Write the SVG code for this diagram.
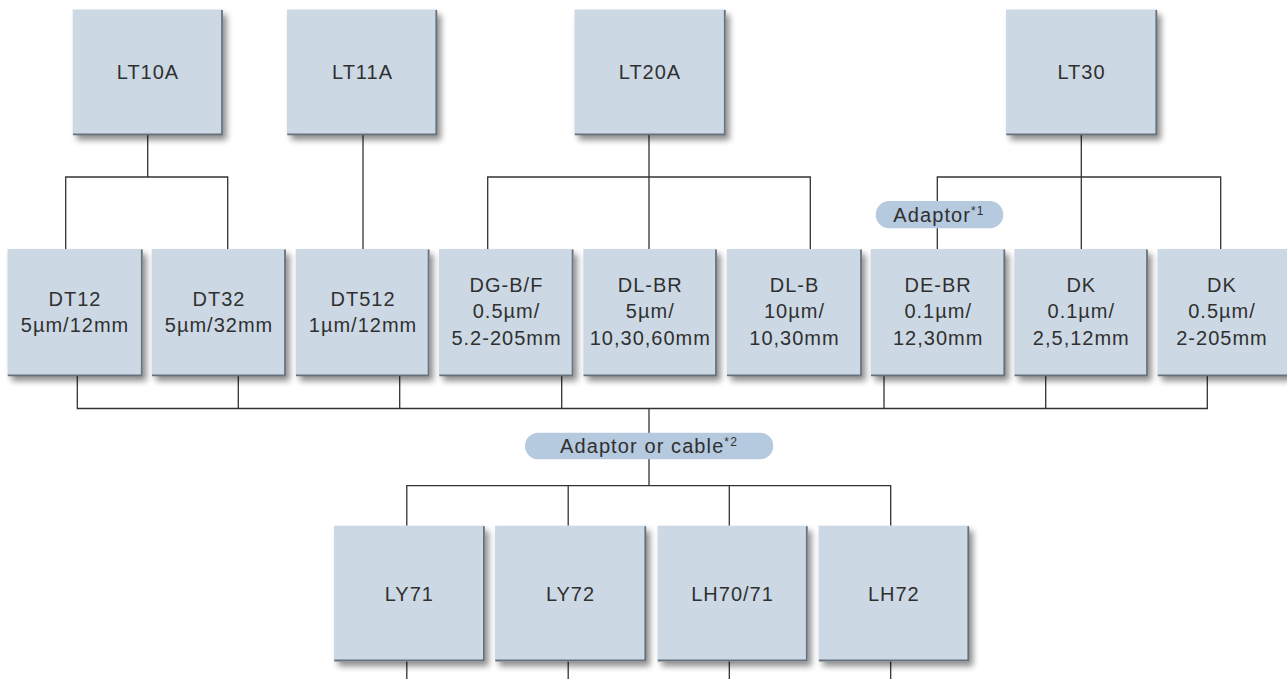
<svg xmlns="http://www.w3.org/2000/svg" width="1287" height="679" viewBox="0 0 1287 679">
<defs>
<filter id="sh" x="-10%" y="-10%" width="130%" height="130%">
<feGaussianBlur in="SourceAlpha" stdDeviation="3"/>
<feOffset dx="4" dy="5" result="o"/>
<feComponentTransfer><feFuncA type="linear" slope="0.45"/></feComponentTransfer>
<feMerge><feMergeNode/><feMergeNode in="SourceGraphic"/></feMerge>
</filter>
</defs>
<style>
.box{fill:#ccd9e4;filter:url(#sh);}
.edge{fill:none;stroke:#66717c;stroke-width:1.8;}
.t{font-family:"Liberation Sans",Arial,sans-serif;font-size:20px;fill:#303030;text-anchor:middle;letter-spacing:1px;}
.pill{fill:#b5c9df;}
.pt{font-family:"Liberation Sans",Arial,sans-serif;font-size:20px;fill:#303030;letter-spacing:1.1px;}
.sup{font-size:12px;}
.c{fill:none;stroke:#333;stroke-width:1.3;}
</style>
<rect width="1287" height="679" fill="#fff"/>
<g id="connectors">
<path class="c" d="M147.7 135V177M65.7 249V177H227.7V249"/>
<path class="c" d="M363 135V249"/>
<path class="c" d="M649 135V249M487.7 249V177H810.3V249"/>
<path class="c" d="M1081.3 135V249M937.3 249V177H1220.7V249"/>
<path class="c" d="M77.3 376V408.5H1207.3V376M238.3 376V408.5M399.7 376V408.5M561.7 376V408.5M884 376V408.5M1045.7 376V408.5M649 408.5V485.7"/>
<path class="c" d="M406.8 525.7V485.7H890.7V525.7M568.2 485.7V525.7M729.3 485.7V525.7"/>
<path class="c" d="M406.8 661V679M568.2 661V679M729.3 661V679M890.7 661V679"/>
</g>
<g id="LT10A"><rect class="box" x="72.7" y="9.5" width="150" height="125.5"/><path class="edge" d="M222 10V134.3H73"/><text class="t" x="148" y="79">LT10A</text></g>
<g id="LT11A"><rect class="box" x="287" y="9.5" width="150" height="125.5"/><path class="edge" d="M436.3 10V134.3H287.3"/><text class="t" x="362.5" y="79">LT11A</text></g>
<g id="LT20A"><rect class="box" x="574.5" y="9.5" width="151" height="125.5"/><path class="edge" d="M724.8 10V134.3H574.8"/><text class="t" x="650" y="79">LT20A</text></g>
<g id="LT30"><rect class="box" x="1006" y="9.5" width="151" height="125.5"/><path class="edge" d="M1156.3 10V134.3H1006.3"/><text class="t" x="1081.5" y="79">LT30</text></g>

<g id="DT12"><rect class="box" x="7.5" y="249" width="135" height="127"/><path class="edge" d="M141.8 249.5V375.3H7.8"/><text class="t" x="75" y="305.7">DT12</text><text class="t" x="75" y="332">5µm/12mm</text></g>
<g id="DT32"><rect class="box" x="151.7" y="249" width="134" height="127"/><path class="edge" d="M285 249.5V375.3H152"/><text class="t" x="219" y="305.7">DT32</text><text class="t" x="219" y="332">5µm/32mm</text></g>
<g id="DT512"><rect class="box" x="295.7" y="249" width="133.6" height="127"/><path class="edge" d="M428.6 249.5V375.3H296"/><text class="t" x="363" y="305.7">DT512</text><text class="t" x="363" y="332">1µm/12mm</text></g>
<g id="DG-BF"><rect class="box" x="439" y="249" width="134.3" height="127"/><path class="edge" d="M572.6 249.5V375.3H439.3"/><text class="t" x="506.5" y="291.7">DG-B/F</text><text class="t" x="506.5" y="318">0.5µm/</text><text class="t" x="506.5" y="344.5">5.2-205mm</text></g>
<g id="DL-BR"><rect class="box" x="583.3" y="249" width="133.4" height="127"/><path class="edge" d="M716 249.5V375.3H583.6"/><text class="t" x="650.3" y="291.7">DL-BR</text><text class="t" x="650.3" y="318">5µm/</text><text class="t" x="650.3" y="344.5">10,30,60mm</text></g>
<g id="DL-B"><rect class="box" x="726.7" y="249" width="135" height="127"/><path class="edge" d="M861 249.5V375.3H727"/><text class="t" x="794.5" y="291.7">DL-B</text><text class="t" x="794.5" y="318">10µm/</text><text class="t" x="794.5" y="344.5">10,30mm</text></g>
<g id="DE-BR"><rect class="box" x="870.7" y="249" width="134.3" height="127"/><path class="edge" d="M1004.3 249.5V375.3H871"/><text class="t" x="938.2" y="291.7">DE-BR</text><text class="t" x="938.2" y="318">0.1µm/</text><text class="t" x="938.2" y="344.5">12,30mm</text></g>
<g id="DK1"><rect class="box" x="1014.3" y="249" width="133.4" height="127"/><path class="edge" d="M1147 249.5V375.3H1014.6"/><text class="t" x="1081.3" y="291.7">DK</text><text class="t" x="1081.3" y="318">0.1µm/</text><text class="t" x="1081.3" y="344.5">2,5,12mm</text></g>
<g id="DK2"><rect class="box" x="1157.5" y="249" width="134" height="127"/><path class="edge" d="M1290.8 249.5V375.3H1157.8"/><text class="t" x="1222" y="291.7">DK</text><text class="t" x="1222" y="318">0.5µm/</text><text class="t" x="1222" y="344.5">2-205mm</text></g>

<g id="adaptor1"><rect class="pill" x="875.7" y="201" width="127.6" height="27.3" rx="13.6"/><text class="pt" x="893.3" y="221.7">Adaptor<tspan class="sup" dy="-7">*1</tspan></text></g>
<g id="adaptor2"><rect class="pill" x="525" y="432.7" width="248.3" height="26.6" rx="13.3"/><text class="pt" x="560" y="453.3">Adaptor or cable<tspan class="sup" dy="-7">*2</tspan></text></g>

<g id="LY71"><rect class="box" x="334" y="525.7" width="150.6" height="135.5"/><path class="edge" d="M483.9 526.2V660.5H334.3"/><text class="t" x="409.3" y="600.7">LY71</text></g>
<g id="LY72"><rect class="box" x="495" y="525.7" width="151" height="135.5"/><path class="edge" d="M645.3 526.2V660.5H495.3"/><text class="t" x="570.5" y="600.7">LY72</text></g>
<g id="LH70-71"><rect class="box" x="657.5" y="525.7" width="150" height="135.5"/><path class="edge" d="M806.8 526.2V660.5H657.8"/><text class="t" x="732.5" y="600.7">LH70/71</text></g>
<g id="LH72"><rect class="box" x="818.6" y="525.7" width="150.4" height="135.5"/><path class="edge" d="M968.3 526.2V660.5H818.9"/><text class="t" x="893.8" y="600.7">LH72</text></g>
</svg>
